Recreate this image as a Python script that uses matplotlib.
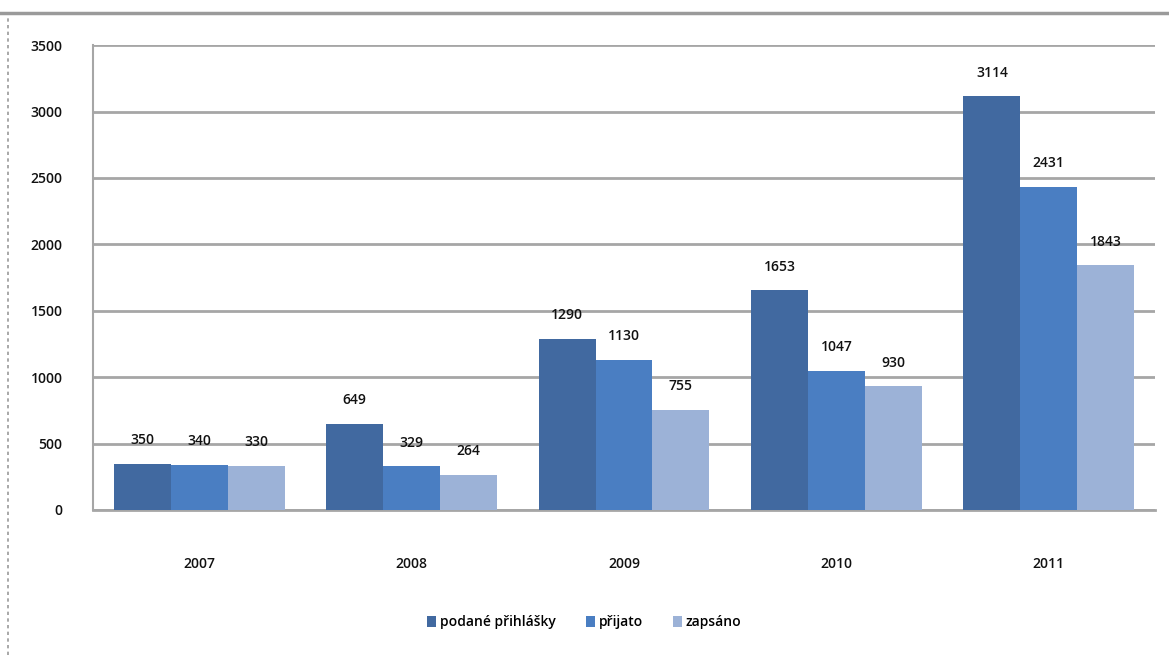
import matplotlib
matplotlib.use("Agg")
import matplotlib.pyplot as plt
from matplotlib.lines import Line2D
import numpy as np

years = ["2007", "2008", "2009", "2010", "2011"]
podane = [350, 649, 1290, 1653, 3114]
prijato = [340, 329, 1130, 1047, 2431]
zapsano = [330, 264, 755, 930, 1843]
series_names = ["podané přihlášky", "přijato", "zapsáno"]
colors = ["#4169A0", "#4A7EC2", "#9CB2D7"]

plt.rcParams['font.family'] = ['Open Sans', 'DejaVu Sans']

fig = plt.figure(figsize=(11.69, 6.55), dpi=100)
ax = fig.add_axes([93/1169, 0.2214, (1155 - 93)/1169, 0.7096])

x = np.arange(len(years))
w = 0.268
for i, (vals, name, c) in enumerate(zip([podane, prijato, zapsano], series_names, colors)):
    pos = x + (i - 1) * w
    ax.bar(pos, vals, width=w, color=c, label=name, zorder=3)
    for p, v in zip(pos, vals):
        ax.annotate(str(v), (p, v), xytext=(0, 12), textcoords="offset points",
                    ha="center", va="bottom", fontsize=10, fontweight="semibold",
                    color="#111111", zorder=4)

ax.set_xlim(-0.5, len(years) - 0.5)
ax.set_ylim(0, 3500)
ax.set_yticks(range(0, 3501, 500))
ax.set_xticks(x)
ax.set_xticklabels(years, fontweight="semibold")
for lbl in ax.get_yticklabels():
    lbl.set_fontweight("semibold")
ax.yaxis.grid(True, color="#A6A6A6", linewidth=2, zorder=0)
ax.set_axisbelow(True)
for s in ["top", "right"]:
    ax.spines[s].set_visible(False)
ax.spines["left"].set_color("#A6A6A6")
ax.spines["left"].set_linewidth(1.5)
ax.spines["bottom"].set_color("#A6A6A6")
ax.spines["bottom"].set_linewidth(2)
ax.tick_params(axis="both", length=0, labelsize=10, colors="#111111")
ax.tick_params(axis="y", pad=22)
ax.tick_params(axis="x", pad=34)

leg = fig.legend(loc="center", bbox_to_anchor=(0.5, 0.05), ncol=3, frameon=False,
                 prop={"size": 10, "weight": "semibold"}, handlelength=0.6,
                 handleheight=0.9, handletextpad=0.3, columnspacing=2.2)

fig.add_artist(Line2D([0.0, 1.0], [1 - 13/655, 1 - 13/655], transform=fig.transFigure,
                      color="#9A9A9A", linewidth=2.5))
fig.add_artist(Line2D([8/1169, 8/1169], [0, 1 - 13/655], transform=fig.transFigure,
                      color="#9A9A9A", linewidth=1.2, linestyle=(0, (2, 2))))

fig.savefig("out.png", dpi=100)
